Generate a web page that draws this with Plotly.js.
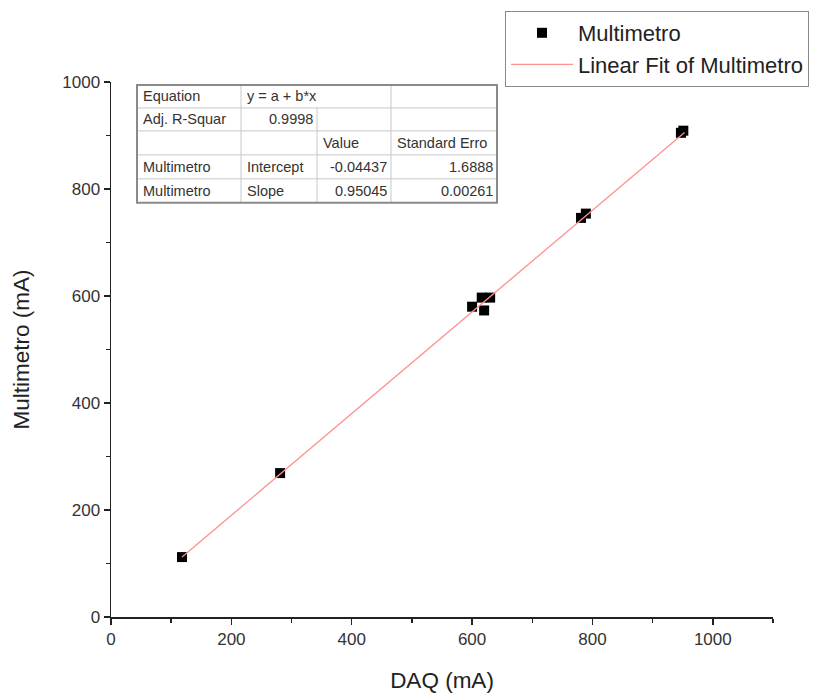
<!DOCTYPE html>
<html>
<head>
<meta charset="utf-8">
<script src="https://cdn.plot.ly/plotly-3.0.1.min.js"></script>
<style>html,body{margin:0;padding:0;background:#fff;}#chart{width:832px;height:693px;}</style>
</head>
<body>
<div id="chart"></div>
<script>
// ---- data ----
var daqX = [118, 281, 600, 616, 620, 630, 781, 789, 947, 951];
var multY = [112, 269, 580, 597, 573, 597, 746, 754, 905, 909];
var fitX = [118, 953];
var fitY = [112.1, 905.7];
var xTicks = [0, 200, 400, 600, 800, 1000];
var yTicks = [0, 200, 400, 600, 800, 1000];
var tableRows = [
  ["Equation", "y = a + b*x", "", ""],
  ["Adj. R-Squar", "0.9998", "", ""],
  ["", "", "Value", "Standard Erro"],
  ["Multimetro", "Intercept", "-0.04437", "1.6888"],
  ["Multimetro", "Slope", "0.95045", "0.00261"]
];

// ---- layout geometry (pixels) ----
var W = 832, H = 693;
var L = 111, R = 773, T = 81, B = 617;
function px(x) { return (x - L) / (R - L); }
function py(y) { return (B - y) / (B - T); }

var colEdges = [137, 241, 317, 391, 497];
var rowEdges = [84, 107, 130, 154, 178, 202];
var align = [
  ["l", "l", "", ""],
  ["l", "r", "", ""],
  ["", "", "l", "l"],
  ["l", "l", "r", "r"],
  ["l", "l", "r", "r"]
];
var FONT = 'Liberation Sans, Arial, sans-serif';

var shapes = [];
var annotations = [];
shapes.push({type: 'rect', xref: 'paper', yref: 'paper', x0: px(colEdges[0]), x1: px(colEdges[4]),
  y0: py(rowEdges[5]), y1: py(rowEdges[0]), fillcolor: '#ffffff', line: {width: 0}});
for (var r = 1; r < rowEdges.length - 1; r++) {
  shapes.push({type: 'line', xref: 'paper', yref: 'paper', x0: px(colEdges[0]), x1: px(colEdges[4]),
    y0: py(rowEdges[r]), y1: py(rowEdges[r]), line: {color: '#c8c8c8', width: 1}});
}
for (var c = 1; c < colEdges.length - 1; c++) {
  var startRow = (c === 2) ? 1 : 0;
  shapes.push({type: 'line', xref: 'paper', yref: 'paper', x0: px(colEdges[c]), x1: px(colEdges[c]),
    y0: py(rowEdges[5]), y1: py(rowEdges[startRow]), line: {color: '#c8c8c8', width: 1}});
}
shapes.push({type: 'rect', xref: 'paper', yref: 'paper', x0: px(colEdges[0]), x1: px(colEdges[4]),
  y0: py(rowEdges[5]), y1: py(rowEdges[0]), line: {color: '#8a8a8a', width: 2}});

for (var r = 0; r < tableRows.length; r++) {
  for (var c = 0; c < 4; c++) {
    var txt = tableRows[r][c];
    if (!txt) continue;
    var a = align[r][c];
    var xp = a === 'l' ? colEdges[c] + 5 : colEdges[c + 1] - 3;
    annotations.push({xref: 'paper', yref: 'paper', x: px(xp), y: py((rowEdges[r] + rowEdges[r + 1]) / 2),
      text: txt, showarrow: false, xanchor: a === 'l' ? 'left' : 'right', yanchor: 'middle',
      borderpad: 0, font: {family: FONT, size: 14.5, color: '#333'}});
  }
}

var traces = [
  {x: daqX, y: multY, type: 'scatter', mode: 'markers', name: 'Multimetro',
   marker: {symbol: 'square', size: 10, color: '#000000'}},
  {x: fitX, y: fitY, type: 'scatter', mode: 'lines', name: 'Linear Fit of Multimetro',
   line: {color: '#ff9090', width: 1.3}}
];

var axisFont = {family: FONT, size: 17, color: '#333'};
var layout = {
  width: W, height: H,
  margin: {l: L, r: W - R, t: T, b: H - B, pad: 0},
  paper_bgcolor: '#fff', plot_bgcolor: '#fff',
  showlegend: true,
  legend: {x: px(505), y: py(11), xanchor: 'left', yanchor: 'top', bgcolor: '#fff',
    bordercolor: '#8a8a8a', borderwidth: 1, itemwidth: 62, tracegroupgap: 0,
    font: {family: FONT, size: 22, color: '#222'}},
  xaxis: {range: [0, 1100], tickvals: xTicks, ticktext: xTicks.map(String), ticks: 'outside', ticklen: 6,
    tickwidth: 1.5, tickcolor: '#222', showline: true, linecolor: '#222', linewidth: 1.5,
    showgrid: false, zeroline: false, tickfont: axisFont, fixedrange: true,
    minor: {dtick: 100, tick0: 0, ticks: 'outside', ticklen: 4, tickwidth: 1.5, tickcolor: '#222', showgrid: false},
    title: {text: 'DAQ (mA)', standoff: 26, font: {family: FONT, size: 22.5, color: '#222'}}},
  yaxis: {range: [0, 1000], tickvals: yTicks, ticktext: yTicks.map(String), ticks: 'outside', ticklen: 6,
    tickwidth: 1.5, tickcolor: '#222', showline: true, linecolor: '#222', linewidth: 1.5,
    showgrid: false, zeroline: false, tickfont: axisFont, fixedrange: true,
    minor: {dtick: 100, tick0: 0, ticks: 'outside', ticklen: 4, tickwidth: 1.5, tickcolor: '#222', showgrid: false},
    title: {text: 'Multimetro (mA)', standoff: 26, font: {family: FONT, size: 22.5, color: '#222'}}},
  shapes: shapes,
  annotations: annotations
};

Plotly.newPlot('chart', traces, layout, {displayModeBar: false, staticPlot: true});
</script>
</body>
</html>
